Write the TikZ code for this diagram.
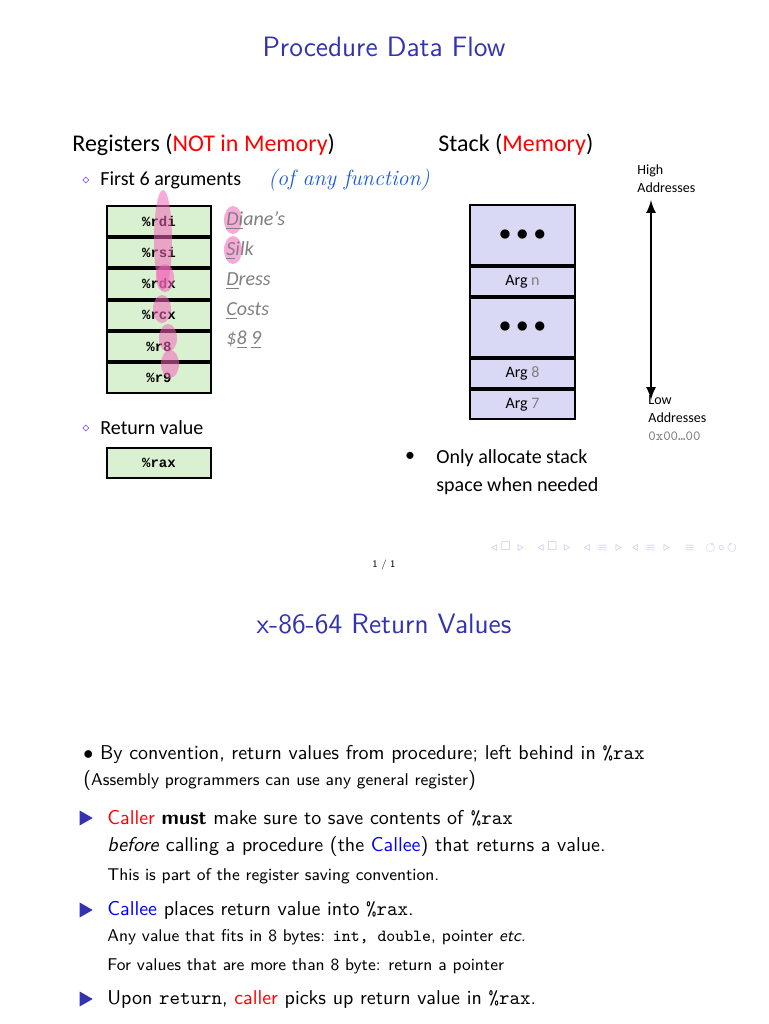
\documentclass[tikz,border=0pt]{standalone}
\usepackage{amssymb}
\usepackage{fontspec}
\usepackage{tikz}
\usetikzlibrary{shapes.geometric, positioning}
\newfontfamily\slidefont{Carlito}
\newfontfamily\regfont{Liberation Mono}
\definecolor{beamerblue}{rgb}{0.2,0.2,0.7}
\definecolor{regfill}{rgb}{0.85,0.94,0.82}
\definecolor{stackfill}{rgb}{0.85,0.85,0.96}
\definecolor{navcol}{rgb}{0.75,0.75,0.92}
\definecolor{inkblue}{rgb}{0.1,0.35,0.9}

\tikzset{
  reg/.style={draw=black, line width=1pt, fill=regfill, minimum width=52pt, minimum height=14.7pt, inner sep=0pt, font=\regfont\bfseries\fontsize{7}{8}\selectfont},
  slot/.style={draw=black, line width=1pt, fill=stackfill, minimum width=52.5pt, inner sep=0pt, font=\slidefont\fontsize{8}{9}\selectfont},
  blob/.style={ellipse, fill=magenta!60, opacity=0.55, minimum width=9pt, minimum height=14pt, inner sep=0pt},
  mnem/.style={anchor=west, inner sep=0pt, text=gray, font=\slidefont\itshape\fontsize{10}{12}\selectfont},
  body/.style={anchor=west, inner sep=0pt, font=\sffamily\fontsize{10}{12}\selectfont},
  small/.style={anchor=west, inner sep=0pt, font=\sffamily\fontsize{8.5}{10}\selectfont},
  tri/.style={isosceles triangle, fill=beamerblue, minimum width=6pt, minimum height=6.5pt, inner sep=0pt, isosceles triangle apex angle=60},
}

\begin{document}
\begin{tikzpicture}[x=0.5pt, y=-0.5pt]
	\useasboundingbox[fill=white] (0,0) rectangle (768,1024);

	% first slide
	\node[text=beamerblue, font=\sffamily\fontsize{14}{16}\selectfont] (title1) at (384,47) {Procedure Data Flow};

	\node[anchor=west, inner sep=0pt, font=\slidefont\fontsize{12}{14}\selectfont] (regs) at (72,145) {Registers (\textcolor{red}{NOT in Memory})};
	\node[anchor=west, inner sep=0pt, font=\slidefont\fontsize{12}{14}\selectfont] (stack) at (438,145) {Stack (\textcolor{red}{Memory})};

	\node[text=beamerblue!70!magenta, font=\fontsize{6}{6}\selectfont] (d1) at (86,181) {$\diamond$};
	\node[anchor=west, inner sep=0pt, font=\slidefont\fontsize{10}{12}\selectfont] (args) at (100,180) {First 6 arguments};
	\node[anchor=west, inner sep=0pt, text=inkblue, font=\itshape\fontsize{11}{12}\selectfont] (note) at (268,180) {(of any function)};

	\node[reg] (rdi) at (159,221) {\%rdi};
	\node[reg, below=0pt of rdi] (rsi) {\%rsi};
	\node[reg, below=0pt of rsi] (rdx) {\%rdx};
	\node[reg, below=0pt of rdx] (rcx) {\%rcx};
	\node[reg, below=0pt of rcx] (r8) {\%r8};
	\node[reg, below=0pt of r8] (r9) {\%r9};

	\node[blob, minimum height=50pt] (b1) at (163,240) {};
	\node[blob] (b2) at (165,278) {};
	\node[blob] (b3) at (162,309) {};
	\node[blob] (b4) at (168,338) {};
	\node[blob] (b5) at (170,364) {};
	\node[blob] (b6) at (233,220) {};
	\node[blob] (b7) at (233,250) {};

	\node[mnem] (n1) at (226,221) {\underline{Di}ane’s};
	\node[mnem] (n2) at (226,251) {\underline{S}ilk};
	\node[mnem] (n3) at (226,281) {\underline{D}ress};
	\node[mnem] (n4) at (226,311) {\underline{C}osts};
	\node[mnem] (n5) at (226,340) {\$\underline{8} \underline{9}};

	\node[text=beamerblue!70!magenta, font=\fontsize{6}{6}\selectfont] (d2) at (86,429) {$\diamond$};
	\node[anchor=west, inner sep=0pt, font=\slidefont\fontsize{10}{12}\selectfont] (ret) at (100,428) {Return value};
	\node[reg] (rax) at (159,463) {\%rax};

	\node[slot, minimum height=30pt, font=\bfseries\fontsize{12}{12}\selectfont] (s1) at (522.5,235) {$\bullet\bullet\bullet$};
	\node[slot, minimum height=14.5pt, below=0pt of s1] (s2) {Arg \textcolor{gray}{n}};
	\node[slot, minimum height=29.5pt, below=0pt of s2, font=\bfseries\fontsize{12}{12}\selectfont] (s3) {$\bullet\bullet\bullet$};
	\node[slot, minimum height=14.5pt, below=0pt of s3] (s4) {Arg \textcolor{gray}{8}};
	\node[slot, minimum height=14.5pt, below=0pt of s4] (s5) {Arg \textcolor{gray}{7}};

	\node[anchor=west, inner sep=0pt, align=left, font=\slidefont\fontsize{7}{9}\selectfont] (high) at (637,179) {High\\Addresses};
	\coordinate (top) at (651,200);
	\coordinate (bot) at (651,400);
	\draw[<->, >=latex, line width=1.2pt] (top) -- (bot);
	\node[anchor=north west, inner sep=0pt, align=left, font=\slidefont\fontsize{7}{9}\selectfont] (low) at (648,395) {Low\\Addresses\\\textcolor{gray}{\ttfamily 0x00…00}};

	\node[font=\slidefont\fontsize{10}{12}\selectfont] (dot) at (410,457) {•};
	\node[anchor=west, inner sep=0pt, align=left, font=\slidefont\fontsize{10}{14}\selectfont] (alloc) at (436,472) {Only allocate stack\\space when needed};

	\node[text=navcol, font=\fontsize{5}{6}\selectfont] (nav) at (614,547) {$\triangleleft\,\square\,\triangleright\ \ \triangleleft\,\square\,\triangleright\ \ \triangleleft\,\equiv\,\triangleright\ \ \triangleleft\,\equiv\,\triangleright\quad\equiv\quad\circlearrowleft\!\circ\!\circlearrowright$};
	\node[font=\sffamily\fontsize{5}{6}\selectfont] (page) at (384,565) {1 / 1};

	% second slide
	\node[text=beamerblue, font=\sffamily\fontsize{14}{16}\selectfont] (title2) at (384,624) {x-86-64 Return Values};

	\node[body] (l1) at (83,754) {$\bullet$ By convention, return values from procedure; left behind in \texttt{\%rax}};
	\node[small] (l2) at (83,780) {\fontsize{10}{12}\selectfont(\fontsize{8.5}{10}\selectfont Assembly programmers can use any general register\fontsize{10}{12}\selectfont)};
	\node[tri] (t1) at (84,818) {};
	\node[body] (l3) at (107,818) {\textcolor{red}{Caller} \textbf{must} make sure to save contents of \texttt{\%rax}};
	\node[body] (l4) at (107,846) {\textit{before} calling a procedure (the \textcolor{blue}{Callee}) that returns a value.};
	\node[small] (l5) at (107,876) {This is part of the register saving convention.};
	\node[tri] (t2) at (84,910) {};
	\node[body] (l6) at (107,910) {\textcolor{blue}{Callee} places return value into \texttt{\%rax}.};
	\node[small] (l7) at (107,937) {Any value that fits in 8 bytes: \texttt{int, double}, pointer \textit{etc.}};
	\node[small] (l8) at (107,966) {For values that are more than 8 byte: return a pointer};
	\node[tri] (t3) at (84,999) {};
	\node[body] (l9) at (107,999) {Upon \texttt{return}, \textcolor{red}{caller} picks up return value in \texttt{\%rax}.};
\end{tikzpicture}
\end{document}
